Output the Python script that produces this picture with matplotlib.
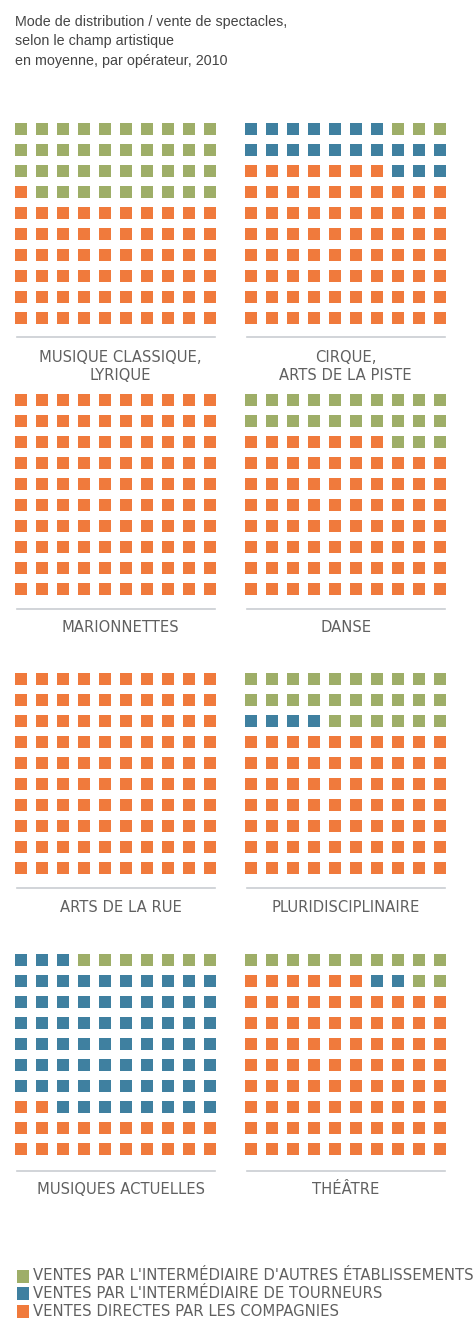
import matplotlib
matplotlib.use("Agg")
import matplotlib.pyplot as plt
from matplotlib.patches import Rectangle

# ---- data ----
categories = ["MUSIQUE CLASSIQUE,\nLYRIQUE", "CIRQUE,\nARTS DE LA PISTE",
              "MARIONNETTES", "DANSE",
              "ARTS DE LA RUE", "PLURIDISCIPLINAIRE",
              "MUSIQUES ACTUELLES", "THÉÂTRE"]
ventes_directes = [61, 77, 100, 77, 100, 70, 22, 86]
ventes_tourneurs = [0, 20, 0, 0, 0, 4, 71, 2]
ventes_autres = [39, 3, 0, 23, 0, 26, 7, 12]
series_labels = ["VENTES DIRECTES PAR LES COMPAGNIES",
                 "VENTES PAR L'INTERMÉDIAIRE DE TOURNEURS",
                 "VENTES PAR L'INTERMÉDIAIRE D'AUTRES ÉTABLISSEMENTS"]
title_lines = ["Mode de distribution / vente de spectacles,",
               "selon le champ artistique",
               "en moyenne, par opérateur, 2010"]

# ---- style ----
colors = ["#f07a3c", "#3f80a0", "#9eae68"]
text_col = "#606060"
line_col = "#c9cdd2"
TFONT = "Liberation Sans"
LFONT = "DejaVu Sans"

W, H = 477, 1324
fig = plt.figure(figsize=(W / 100, H / 100), dpi=100)
fig.patch.set_facecolor("white")
renderer = fig.canvas.get_renderer()

bg = fig.add_axes([0, 0, 1, 1])
bg.set_xlim(0, W)
bg.set_ylim(H, 0)
bg.axis("off")


def fit_size(s, family, target_px, base=10.0):
    t = fig.text(0, 0, s, fontsize=base, family=family)
    w = t.get_window_extent(renderer).width
    t.remove()
    return base * target_px / w


# title
tsize = fit_size(title_lines[0], TFONT, 270)
for i, t in enumerate(title_lines):
    bg.text(15, 22 + i * 19.5, t, fontsize=tsize, color="#444444", family=TFONT,
            va="center", ha="left")

# panel geometry (pixels)
col_lefts = [15, 245]
row_tops = [123, 394, 673, 954]
line_ys = [337, 609, 888, 1171]
label_ys = [357, 628, 908, 1189]
pitch = 21.0
sq = 12.2
grid_w = 9 * pitch + sq

lsize = fit_size("MUSIQUE CLASSIQUE,", LFONT, 162)

for idx, cat in enumerate(categories):
    r, c = divmod(idx, 2)
    left, top = col_lefts[c], row_tops[r]
    ax = fig.add_axes([left / W, 1 - (top + grid_w) / H, grid_w / W, grid_w / H])
    ax.set_xlim(0, 9 + sq / pitch)
    ax.set_ylim(0, 9 + sq / pitch)
    ax.axis("off")
    counts = [ventes_directes[idx], ventes_tourneurs[idx], ventes_autres[idx]]
    k = 0
    for cnt, col in zip(counts, colors):
        for _ in range(cnt):
            row_b, cc = divmod(k, 10)
            ax.add_patch(Rectangle((cc, row_b), sq / pitch, sq / pitch,
                                   facecolor=col, edgecolor="none"))
            k += 1
    # separator line and label
    bg.plot([left + 2, left + grid_w - 1], [line_ys[r]] * 2, color=line_col, lw=1.2)
    cx = left + grid_w / 2 + (5 if c == 0 else 0)
    for j, ln in enumerate(cat.split("\n")):
        bg.text(cx, label_ys[r] + j * 19, ln, fontsize=lsize, color=text_col,
                family=LFONT, ha="center", va="center")

# legend
gsize = fit_size(series_labels[2], LFONT, 440)
leg_ys = [1311, 1293, 1276]
for lab, col, y in zip(series_labels, colors, leg_ys):
    bg.add_patch(Rectangle((17, y - 6.5), 12, 13, facecolor=col, edgecolor="none"))
    bg.text(33, y, lab, fontsize=gsize, color=text_col, family=LFONT,
            ha="left", va="center")

fig.savefig("out.png", dpi=100, facecolor="white")
